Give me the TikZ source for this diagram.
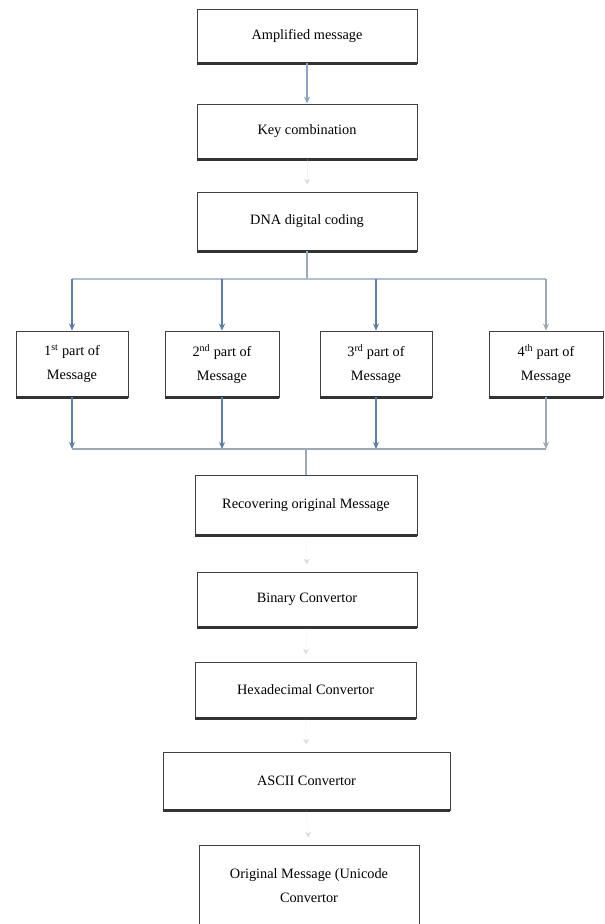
\documentclass[tikz,border=0pt]{standalone}
\usepackage{fontspec}
\setmainfont{Liberation Serif}
\usetikzlibrary{arrows.meta}
\definecolor{arrblue}{HTML}{5B7EA6}
\definecolor{arrgray}{HTML}{9FA9B3}
\definecolor{branchc}{HTML}{AFC0D0}
\definecolor{faint}{HTML}{D8D8D8}
\definecolor{tipc}{HTML}{8A8A8A}
\tikzset{
  box/.style={draw=black!75, line width=0.8pt, rectangle, inner sep=2pt, align=center,
    font=\fontsize{14.3}{24}\selectfont},
  arr/.style={draw=arrblue, line width=1.3pt, -{Stealth[length=7pt,width=6pt]}},
  arrg/.style={draw=arrgray, line width=1.3pt, -{Stealth[length=7pt,width=6pt]}},
  tiny/.style={draw=faint, line width=0.4pt, draw opacity=0.3, -{Stealth[length=6pt,width=6pt,color=tipc, open, line width=1pt]}, shorten >=7pt},
  bline/.style={draw=branchc, line width=1.5pt},
  bline2/.style={draw=arrgray, line width=1.3pt},
  base/.style={draw=black!80, line width=2.4pt}
}
\begin{document}
\begin{tikzpicture}[x=1pt,y=-1pt]
\useasboundingbox (0,0) rectangle (605,924);
\node[box, minimum width=220pt, minimum height=54pt] (b1) at (307,36) {Amplified message};
\node[box, minimum width=220pt, minimum height=55pt] (b2) at (307,131.5) {Key combination};
\node[box, minimum width=220pt, minimum height=59pt] (b3) at (307,221.5) {DNA digital coding};
\node[box, minimum width=112pt, minimum height=66pt] (p1) at (72,364) {1\textsuperscript{st} part of\\Message};
\node[box, minimum width=114pt, minimum height=66pt] (p2) at (222,364) {2\textsuperscript{nd} part of\\Message};
\node[box, minimum width=112pt, minimum height=66pt] (p3) at (376,364) {3\textsuperscript{rd} part of\\Message};
\node[box, minimum width=114pt, minimum height=66pt] (p4) at (546,364) {4\textsuperscript{th} part of\\Message};
\node[box, minimum width=222pt, minimum height=60pt] (r) at (306,505) {Recovering original Message};
\node[box, minimum width=220pt, minimum height=55pt] (bin) at (307,599.5) {Binary Convertor};
\node[box, minimum width=221pt, minimum height=56pt] (hex) at (305.5,690) {Hexadecimal Convertor};
\node[box, minimum width=287pt, minimum height=58pt] (asc) at (306.5,781) {ASCII Convertor};
\node[box, minimum width=220pt, minimum height=82pt] (orig) at (309,886) {Original Message (Unicode\\Convertor};
% thick bottom edges
\foreach \n in {b1,b2,b3,p1,p2,p3,p4,r,bin,hex,asc}{
  \draw[base] (\n.south west) -- (\n.south east);
}
% connectors
\draw[arr, draw=arrblue!70] (b1.south) -- (b2.north);
\draw[tiny] (b2.south) -- (b3.north);
\coordinate (j1) at (307,279);
\coordinate (j2) at (306,449);
\draw[bline2] (b3.south) -- (j1);
\draw[bline] (j1 -| p1.north) -- (j1 -| p4.north);
\draw[arr] (j1 -| p1.north) -- (p1.north);
\draw[arr] (j1 -| p2.north) -- (p2.north);
\draw[arr] (j1 -| p3.north) -- (p3.north);
\draw[arrg] (j1 -| p4.north) -- (p4.north);
\draw[arr] (p1.south) -- (p1.south |- j2);
\draw[arr] (p2.south) -- (p2.south |- j2);
\draw[arr] (p3.south) -- (p3.south |- j2);
\draw[arrg] (p4.south) -- (p4.south |- j2);
\draw[bline2] (p1.south |- j2) -- (p4.south |- j2);
\draw[bline2] (j2) -- (r.north);
\draw[tiny] (r.south) -- (bin.north);
\draw[tiny] (bin.south) -- (hex.north);
\draw[tiny] (hex.south) -- (asc.north);
\draw[tiny] (asc.south) -- (orig.north);
\end{tikzpicture}
\end{document}
